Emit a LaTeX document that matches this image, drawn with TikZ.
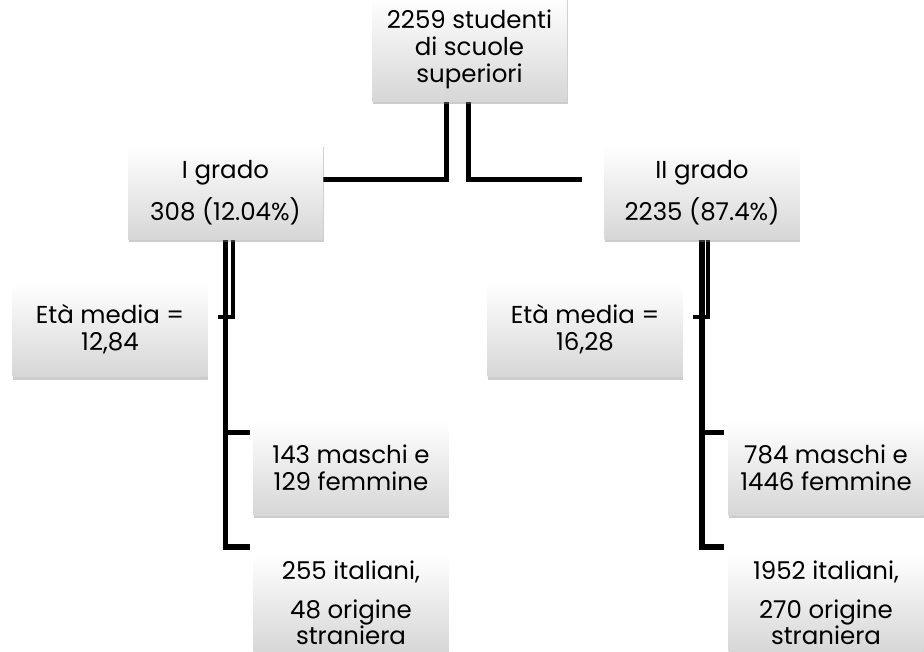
\documentclass[tikz,border=0pt]{standalone}
\usepackage{fontspec}
\setmainfont{Poppins}
\usetikzlibrary{calc,shadows,backgrounds,positioning}
\tikzset{>=latex}
\tikzset{
  box/.style={top color=white, bottom color=gray!32, minimum width=195pt,
    minimum height=95pt, inner sep=0pt, align=center,
    font=\fontsize{24.5}{27}\selectfont,
    drop shadow={opacity=0.4, shadow xshift=0.5pt, shadow yshift=-2.5pt}},
  link/.style={line width=5.5pt},
  thinlink/.style={line width=4pt}
}

\begin{document}
\begin{tikzpicture}[x=1pt, y=-1pt]
    \useasboundingbox (0,0) rectangle (924,652);

    % boxes
    \node[box, minimum height=105pt] (top) at (469.5,49.5) {2259 studenti\\di scuole\\superiori};
    \node[box] (g1) at (225.5,192.5) {I grado\\[11pt]308 (12.04\%)};
    \node[box] (g2) at (702,192.5) {II grado\\[11pt]2235 (87.4\%)};

    \node[box] (eta1) at (110,329.5) {Età media =\\12,84};
    \node[box] (eta2) at (585,329.5) {Età media =\\16,28};

    \node[box] (m1) at (351,467.5) {143 maschi e\\129 femmine};
    \node[box] (m2) at (826,467.5) {784 maschi e\\1446 femmine};

    \node[box, minimum height=100pt] (i1) at (351,603) {255 italiani,\\[12pt]48 origine\\[-1pt]straniera};
    \node[box, minimum height=100pt] (i2) at (826,603) {1952 italiani,\\[12pt]270 origine\\[-1pt]straniera};

    % connectors
    \begin{scope}[on background layer]
        \draw[link] ($(top.south)+(-23,0)$) |- ($(g1.east)+(0,-13)$);
        \draw[link] ($(top.south)+(-1,0)$) |- ($(g2.west)+(-22,-13)$);

        \draw[thinlink] ($(g1.south)+(7,0)$) |- ($(eta1.east)+(10,-12)$);
        \draw[link] (g1.south) |- ($(m1.west)+(-3,-35)$);
        \draw[link] (g1.south) |- ($(i1.north west)+(-3,-6)$);

        \draw[thinlink] ($(g2.south)+(6,0)$) |- ($(eta2.east)+(10,-12)$);
        \draw[link] (g2.south) |- ($(m2.west)+(-4,-35)$);
        \draw[link] (g2.south) |- ($(i2.north west)+(-4,-6)$);
    \end{scope}
\end{tikzpicture}
\end{document}
